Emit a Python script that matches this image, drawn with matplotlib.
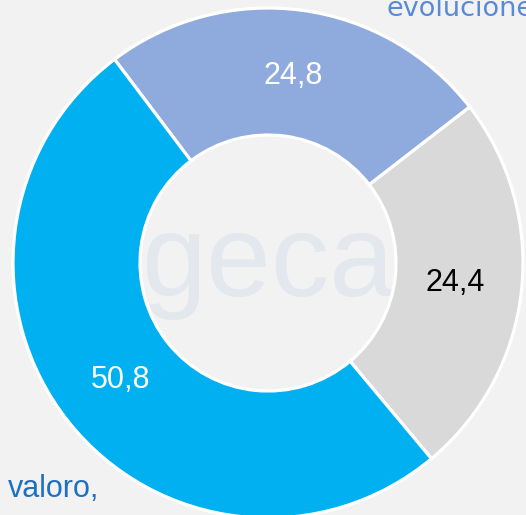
import matplotlib
matplotlib.use("Agg")
import matplotlib.pyplot as plt

values = [24.8, 24.4, 50.8]
labels = ["24,8", "24,4", "50,8"]
colors = ["#8faadc", "#d9d9d9", "#00b0f0"]
label_colors = ["white", "black", "white"]

W, H = 526, 515
fig = plt.figure(figsize=(W / 100, H / 100), dpi=100)
fig.patch.set_facecolor("#f2f2f2")
ax = fig.add_axes([0, 0, 1, 1])
ax.set_facecolor("#f2f2f2")
ax.axis("off")

cx, cy = 268, H - 263
R = 255
width = 127

# watermark (behind the ring)
ax.text(cx, cy - 2, "geca", fontsize=84, color="#e3e7ee",
        family="Liberation Sans", ha="center", va="center", zorder=1)

wedges, texts = ax.pie(values, labels=labels, colors=colors, startangle=127,
                       counterclock=False, center=(cx, cy), radius=R,
                       labeldistance=0.74, frame=False,
                       wedgeprops=dict(width=width, edgecolor="white", linewidth=2.3),
                       textprops=dict(fontsize=22, family="Liberation Sans",
                                      ha="center", va="center"))
for w in wedges:
    w.set_zorder(2)
for t, c in zip(texts, label_colors):
    t.set_color(c)
    t.set_ha("center")
    t.set_va("center")
    t.set_zorder(3)

ax.set_xlim(0, W)
ax.set_ylim(0, H)
ax.set_aspect("auto")

ax.text(387, H - 16, "evolucione", fontsize=19.5, color="#5a8ad6",
        family="DejaVu Sans", ha="left", va="baseline", clip_on=False)
ax.text(8, H - 497, "valoro,", fontsize=22, color="#1e70c0",
        family="Liberation Sans", ha="left", va="baseline")

fig.savefig("out.png", dpi=100, facecolor=fig.get_facecolor())
